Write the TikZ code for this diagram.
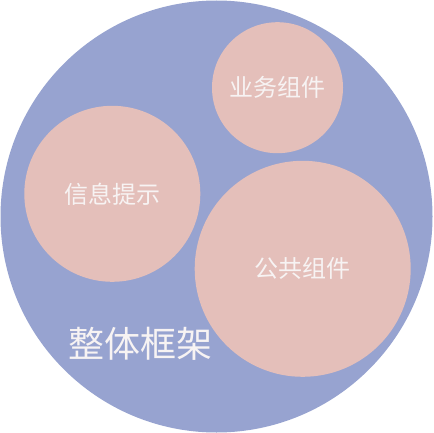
\documentclass[tikz,border=0pt]{standalone}
\usepackage{fontspec}
\newfontfamily\cjk{Noto Sans CJK SC}
\definecolor{bigblue}{HTML}{97A3D0}
\definecolor{pinkc}{HTML}{E4BFBA}
\definecolor{txt}{HTML}{F7F3F3}
\begin{document}
\begin{tikzpicture}[x=1pt,y=-1pt,
  bubble/.style={circle,fill=pinkc,draw=none,inner sep=0pt,font=\cjk\fontsize{24}{28}\selectfont,text=txt}]
\useasboundingbox (0,0) rectangle (433,433);
\node[circle,fill=bigblue,draw=none,minimum size=432pt,inner sep=0pt] (all) at (216.5,216.5) {};
\node[bubble,minimum size=131pt] (yewu) at (277.5,87.7) {业务组件};
\node[bubble,minimum size=176pt] (xinxi) at (112.3,193.8) {信息提示};
\node[bubble,minimum size=216pt] (gonggong) at (302.7,268.8) {公共组件};
\node[font=\cjk\fontsize{36}{40}\selectfont,text=txt,inner sep=0pt] (title) at (140,344) {整体框架};
\end{tikzpicture}
\end{document}
